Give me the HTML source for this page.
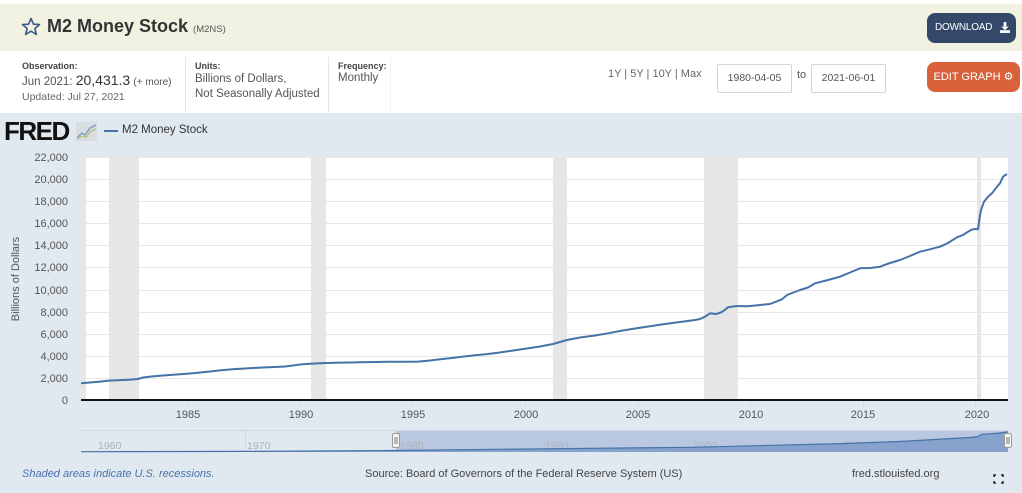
<!DOCTYPE html>
<html><head><meta charset="utf-8"><style>
*{margin:0;padding:0;box-sizing:border-box}
body{width:1022px;height:493px;overflow:hidden;background:#fff;font-family:"Liberation Sans",sans-serif;position:relative}
.a{position:absolute;white-space:nowrap}
</style></head><body>
<div class="a" style="left:0;top:4px;width:1022px;height:47px;background:#f1f2e1"></div>
<svg class="a" style="left:21px;top:17px" width="20" height="19" viewBox="0 0 20 19"><polygon points="10,1.5 12.5,7.2 18.5,7.6 13.9,11.5 15.4,17.5 10,14.2 4.6,17.5 6.1,11.5 1.5,7.6 7.5,7.2" fill="none" stroke="#3b5a8c" stroke-width="1.6" stroke-linejoin="round"/></svg>
<div class="a" style="left:47px;top:16px;font-size:18px;font-weight:bold;color:#333">M2 Money Stock <span style="font-size:9.5px;font-weight:normal;color:#555">(M2NS)</span></div>
<div class="a" style="left:927px;top:13px;width:89px;height:30px;background:#34496a;border-radius:8px;color:#fff;font-size:10px;line-height:30px;padding-left:8px;letter-spacing:-0.2px">DOWNLOAD</div>
<svg class="a" style="left:1000px;top:22px" width="10" height="11" viewBox="0 0 11 12"><rect x="4" y="0" width="3" height="5" fill="#fff"/><polygon points="1.5,5 9.5,5 5.5,9" fill="#fff"/><rect x="0" y="9" width="11" height="3" fill="#fff"/></svg>

<div class="a" style="left:22px;top:61px;font-size:9px;font-weight:bold;color:#444">Observation:</div>
<div class="a" style="left:22px;top:72px;font-size:11.5px;color:#555">Jun 2021: <span style="font-size:14px;color:#333">20,431.3</span> <span style="font-size:10px">(+ more)</span></div>
<div class="a" style="left:22px;top:91px;font-size:10.5px;color:#666">Updated: Jul 27, 2021</div>
<div class="a" style="left:185px;top:57px;width:1px;height:56px;background:#e6e6e6"></div>
<div class="a" style="left:195px;top:61px;font-size:9px;font-weight:bold;color:#444">Units:</div>
<div class="a" style="left:195px;top:72px;font-size:11.5px;color:#555;line-height:15px">Billions of Dollars,<br>Not Seasonally Adjusted</div>
<div class="a" style="left:328px;top:57px;width:1px;height:56px;background:#e6e6e6"></div>
<div class="a" style="left:338px;top:61px;font-size:9px;font-weight:bold;color:#444">Frequency:</div>
<div class="a" style="left:338px;top:72px;font-size:11.5px;color:#555">Monthly</div>
<div class="a" style="left:390px;top:57px;width:1px;height:56px;background:#f0f0f0"></div>

<div class="a" style="left:608px;top:68px;font-size:11px;color:#666">1Y | 5Y | 10Y | Max</div>
<div class="a" style="left:717px;top:64px;width:75px;height:29px;border:1px solid #d5d5d5;border-radius:2px;font-size:10.5px;color:#555;text-align:center;line-height:27px">1980-04-05</div>
<div class="a" style="left:797px;top:69px;font-size:11px;color:#555">to</div>
<div class="a" style="left:811px;top:64px;width:75px;height:29px;border:1px solid #d5d5d5;border-radius:2px;font-size:10.5px;color:#555;text-align:center;line-height:27px">2021-06-01</div>
<div class="a" style="left:927px;top:62px;width:93px;height:30px;background:#d9623d;border-radius:8px;color:#fff;font-size:11px;line-height:30px;text-align:center">EDIT GRAPH &#x2699;</div>

<div class="a" style="left:0;top:113px;width:1022px;height:380px;background:#e1e9f0"></div>
<div class="a" style="left:4px;top:116px;font-size:26px;font-weight:900;color:#111;letter-spacing:-1.5px">FRED</div>
<svg class="a" style="left:76px;top:122px" width="21" height="19"><rect width="21" height="19" fill="#d8dde2"/><polyline points="1,16 6,11 9,13 14,6 20,3" fill="none" stroke="#7b9bc7" stroke-width="1.3"/><polyline points="1,17 6,14 10,15 15,9 20,7" fill="none" stroke="#b3c37a" stroke-width="1.3"/></svg>
<div class="a" style="left:104px;top:130px;width:14px;height:2px;background:#4572a7"></div>
<div class="a" style="left:122px;top:124px;font-size:11.5px;color:#333">M2 Money Stock</div>

<svg class="a" style="left:0;top:0" width="1022" height="493">
<g font-family="Liberation Sans, sans-serif">
<rect x="81" y="157" width="927" height="243" fill="#fff"/>
<g fill="#e6e6e6">
<rect x="81" y="157" width="5" height="243"/>
<rect x="109" y="157" width="30" height="243"/>
<rect x="311" y="157" width="15" height="243"/>
<rect x="553" y="157" width="14" height="243"/>
<rect x="704" y="157" width="34" height="243"/>
<rect x="977" y="157" width="4" height="243"/>
</g>
<g stroke="#e6e6e6" stroke-width="1">
<line x1="81" x2="1008" y1="157.5" y2="157.5"/>
<line x1="81" x2="1008" y1="179.5" y2="179.5"/>
<line x1="81" x2="1008" y1="201.5" y2="201.5"/>
<line x1="81" x2="1008" y1="223.5" y2="223.5"/>
<line x1="81" x2="1008" y1="245.5" y2="245.5"/>
<line x1="81" x2="1008" y1="267.5" y2="267.5"/>
<line x1="81" x2="1008" y1="290.5" y2="290.5"/>
<line x1="81" x2="1008" y1="312.5" y2="312.5"/>
<line x1="81" x2="1008" y1="334.5" y2="334.5"/>
<line x1="81" x2="1008" y1="356.5" y2="356.5"/>
<line x1="81" x2="1008" y1="378.5" y2="378.5"/>
</g>
<g stroke="#d3dbe3" stroke-width="1">
<line x1="187.5" x2="187.5" y1="401" y2="406"/><line x1="300.5" x2="300.5" y1="401" y2="406"/><line x1="412.5" x2="412.5" y1="401" y2="406"/><line x1="525.5" x2="525.5" y1="401" y2="406"/><line x1="638.5" x2="638.5" y1="401" y2="406"/><line x1="750.5" x2="750.5" y1="401" y2="406"/><line x1="863.5" x2="863.5" y1="401" y2="406"/><line x1="975.5" x2="975.5" y1="401" y2="406"/>
</g>
<polyline fill="none" stroke="#4572a7" stroke-width="2" stroke-linejoin="round" points="81,383.3 90,382.5 100,381.6 109,380.6 120,380.1 130,379.6 138,379 143,377.5 150,376.6 160,375.8 170,375 180,374.3 190,373.5 200,372.5 210,371.5 220,370.4 232,369.3 245,368.5 260,367.6 275,367 285,366.5 293,365.5 300,364.5 310,363.8 320,363.3 335,362.8 350,362.5 360,362.3 375,362 390,361.8 405,361.8 418,361.6 430,360.5 440,359.3 452,358 462,356.7 475,355.2 488,354 498,352.7 510,351 520,349.5 530,348 540,346.5 553,344 560,342 567,340 580,337.5 595,335.5 608,333.3 620,331 635,328.5 650,326.2 665,324 680,322 695,320 700,319 705,316.7 710,313.3 716,314 722,312 728,307.3 737,306 748,306.3 760,305 770,304 782,299.3 787,295 800,290 808,287.5 815,283.3 828,280 840,276.7 850,272.5 856,270 860,268.3 870,268 880,266.7 890,263 900,260 910,256 920,251.7 930,249.3 940,246.7 948,243 957,237.3 963,235 968,231.7 972,229.5 975,229 978,229.3 980,215 981,210 984,201.7 988,196.7 992,193.3 997,186.7 1000,183.3 1003,176.7 1007,174"/>
<line x1="81" x2="1008" y1="400" y2="400" stroke="#111" stroke-width="2"/>
<g font-size="11" fill="#555" text-anchor="end">
<text x="68" y="161">22,000</text><text x="68" y="183">20,000</text><text x="68" y="205">18,000</text><text x="68" y="227">16,000</text><text x="68" y="249">14,000</text><text x="68" y="271">12,000</text><text x="68" y="294">10,000</text><text x="68" y="316">8,000</text><text x="68" y="338">6,000</text><text x="68" y="360">4,000</text><text x="68" y="382">2,000</text><text x="68" y="404">0</text>
</g>
<text x="0" y="0" transform="translate(19,279) rotate(-90)" font-size="11" fill="#555" text-anchor="middle">Billions of Dollars</text>
<g font-size="11" fill="#555" text-anchor="middle">
<text x="188" y="418">1985</text><text x="301" y="418">1990</text><text x="413" y="418">1995</text><text x="526" y="418">2000</text><text x="638" y="418">2005</text><text x="751" y="418">2010</text><text x="863" y="418">2015</text><text x="977" y="418">2020</text>
</g>
<!-- navigator -->
<line x1="81" x2="1008" y1="430.5" y2="430.5" stroke="#cfd7df"/>
<rect x="396" y="431" width="612" height="21" fill="#b9c7e0"/>
<g stroke="#d2dae2"><line x1="245.5" x2="245.5" y1="431" y2="452"/></g>
<g font-size="10.5" fill="#a9b3bf">
<text x="98" y="449">1960</text><text x="247" y="449">1970</text><text x="400" y="449">1980</text><text x="545" y="449">1990</text><text x="693" y="449">2000</text><text x="842" y="449">2010</text><text x="990" y="449">2…</text>
</g>
<polygon fill="#7e9cc9" opacity="0.85" points="81,451.7 245,451.4 396,450.5 545,448.8 693,447.3 842,443.6 900,441.5 970,437.5 977,436.9 982,434.4 990,433.8 1000,433 1008,431.8 1008,452 81,452"/>
<polyline fill="none" stroke="#4572a7" stroke-width="1.2" points="81,451.7 245,451.4 396,450.5 545,448.8 693,447.3 842,443.6 900,441.5 970,437.5 977,436.9 982,434.4 990,433.8 1000,433 1008,431.8"/>
<rect x="392.5" y="433.5" width="7" height="14" rx="1.5" fill="#f7f7f7" stroke="#999"/>
<line x1="395" x2="395" y1="437" y2="444" stroke="#777"/><line x1="397" x2="397" y1="437" y2="444" stroke="#777"/>
<rect x="1004.5" y="433.5" width="7" height="14" rx="1.5" fill="#f7f7f7" stroke="#999"/>
<line x1="1007" x2="1007" y1="437" y2="444" stroke="#777"/><line x1="1009" x2="1009" y1="437" y2="444" stroke="#777"/>
<!-- footer -->
<text x="22" y="477" font-size="11" font-style="italic" fill="#4a71ad">Shaded areas indicate U.S. recessions.</text>
<text x="365" y="477" font-size="11" fill="#444">Source: Board of Governors of the Federal Reserve System (US)</text>
<text x="852" y="477" font-size="11" fill="#444">fred.stlouisfed.org</text>
<g stroke="#222" stroke-width="1.5" fill="none"><polyline points="994,477 994,475 996,475"/><polyline points="1001,475 1003,475 1003,477"/><polyline points="994,481 994,483 996,483"/><polyline points="1001,483 1003,483 1003,481"/></g>
</g>
</svg>
</body></html>
